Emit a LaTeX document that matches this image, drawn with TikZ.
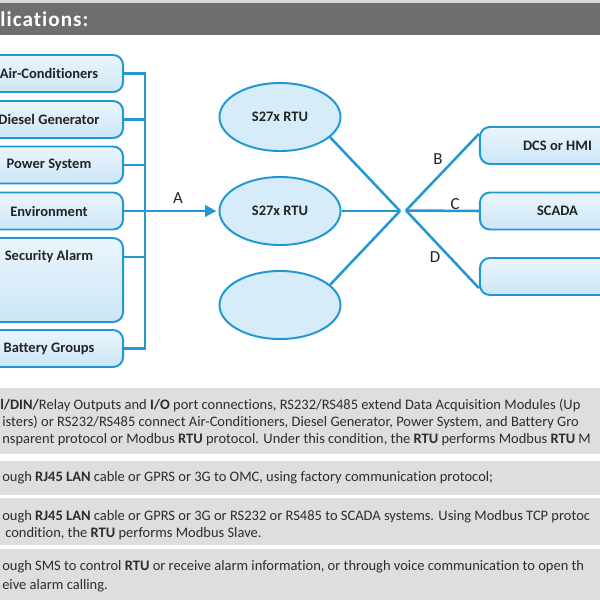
\documentclass[tikz,border=0pt]{standalone}
\usepackage{fontspec}
\setmainfont{Carlito}[Ligatures=NoCommon]
\usetikzlibrary{arrows.meta,shapes.geometric,calc}
\definecolor{lineblue}{RGB}{33,152,212}
\definecolor{boxtop}{RGB}{234,245,252}
\definecolor{boxbot}{RGB}{204,230,247}
\definecolor{ellfill}{RGB}{214,236,249}
\definecolor{hdrgray}{RGB}{110,110,110}
\definecolor{hdrline}{RGB}{215,215,215}
\definecolor{panelgray}{RGB}{222,222,222}
\definecolor{txt}{RGB}{35,35,35}
\definecolor{ptxt}{RGB}{45,45,45}
\begin{document}
\begin{tikzpicture}[x=0.025cm,y=-0.025cm,
  conn/.style={draw=lineblue, line width=1.8pt},
  lbox/.style={draw=lineblue, line width=1.4pt, rounded corners=7pt, top color=boxtop, bottom color=boxbot,
    minimum width=3.7cm, minimum height=0.925cm, inner sep=0pt, font=\bfseries\fontsize{10.3}{12}\selectfont, text=txt},
  rbox/.style={lbox, minimum width=3.875cm},
  rtu/.style={ellipse, draw=lineblue, line width=1.4pt, fill=ellfill, minimum width=3.025cm, minimum height=1.7cm,
    inner sep=0pt, font=\bfseries\fontsize{10.3}{12}\selectfont, text=txt},
  lbl/.style={font=\fontsize{12}{14}\selectfont, text=txt, inner sep=0pt},
  ptext/.style={anchor=base west, inner sep=0pt, font=\fontsize{10.3}{12}\selectfont, text=ptxt},
  panel/.style={fill=panelgray}
]
\useasboundingbox (0,0) rectangle (600,600);
\clip (0,0) rectangle (600,600);
% header
\fill[hdrline] (0,0) rectangle (600,3);
\fill[hdrgray] (0,3) rectangle (600,35);
\node[anchor=west, inner sep=0pt, text=white, font=\bfseries\fontsize{15}{17}\selectfont\addfontfeatures{LetterSpace=5}] (hdr) at (0,19) {lications:};
% left boxes
\node[lbox] (ac) at (49,73.5) {Air-Conditioners};
\node[lbox] (dg) at (49,119.5) {Diesel Generator};
\node[lbox] (ps) at (49,165) {Power System};
\node[lbox] (env) at (49,211) {Environment};
\node[lbox, minimum height=2.1cm] (sec) at (49,280) {};
\node[inner sep=0pt, font=\bfseries\fontsize{10.3}{12}\selectfont, text=txt] (seclab) at (49,257) {Security Alarm};
\node[lbox] (bat) at (49,348.5) {Battery Groups};
% bus
\coordinate (bus) at (145,0);
\draw[conn] (ac.east) -| (bat.east -| bus) -- (bat.east);
\foreach \n in {dg,ps,env} \draw[conn] (\n.east) -- (\n.east -| bus);
\draw[conn] (sec.east |- seclab) -- (seclab -| bus);
% RTUs
\node[rtu] (rtu1) at (280,117) {S27x RTU};
\node[rtu] (rtu2) at (280,211) {S27x RTU};
\node[rtu] (rtu3) at (280,305) {};
\draw[conn, -{Triangle[length=8pt,width=8pt]}, shorten >=1.5pt] (env.east -| bus) -- (rtu2.west);
\node[lbl] (la) at (178,198) {A};
% junctions
\coordinate (j1) at (400,211);
\coordinate (j2) at (406,210.5);
\draw[conn] (rtu1.-22) -- (j1);
\draw[conn] (rtu2.east) -- (j1);
\draw[conn] (rtu3.22) -- (j1);
% right boxes
\node[rbox] (dcs) at (557.5,145.5) {DCS or HMI};
\node[rbox] (scada) at (557.5,211) {SCADA};
\node[rbox] (box3) at (557.5,276.5) {};
\draw[conn] (j2) -- ($(dcs.north west)!0.2!(dcs.south west)$);
\draw[conn] (j2) -- (scada.west);
\draw[conn] (j2) -- ($(box3.north west)!0.8!(box3.south west)$);
\node[lbl] (lb) at (438,159) {B};
\node[lbl] (lc) at (455,204) {C};
\node[lbl] (ld) at (435,257) {D};
% panels
\fill[panel] (0,388) rectangle (600,454);
\fill[panel] (0,461) rectangle (600,495);
\fill[panel] (0,498) rectangle (600,545);
\fill[panel] (0,549) rectangle (600,600);
\node[ptext] (t1) at (0,409) {\textbf{l/DIN/}Relay Outputs and \textbf{I/O} port connections, RS232/RS485 extend Data Acquisition Modules (Up};
\node[ptext] (t2) at (2,426) {isters) or RS232/RS485 connect Air-Conditioners, Diesel Generator, Power System, and Battery Gro};
\node[ptext] (t3) at (2,443) {nsparent protocol or Modbus \textbf{RTU} protocol. Under this condition, the \textbf{RTU} performs Modbus \textbf{RTU} M};
\node[ptext] (t4) at (2,481) {ough \textbf{RJ45 LAN} cable or GPRS or 3G to OMC, using factory communication protocol;};
\node[ptext] (t5) at (2,520) {ough \textbf{RJ45 LAN} cable or GPRS or 3G or RS232 or RS485 to SCADA systems. Using Modbus TCP protoc};
\node[ptext] (t6) at (5,537) {condition, the \textbf{RTU} performs Modbus Slave.};
\node[ptext] (t7) at (2,570) {ough SMS to control \textbf{RTU} or receive alarm information, or through voice communication to open th};
\node[ptext] (t8) at (2,589) {eive alarm calling.};
\end{tikzpicture}
\end{document}
